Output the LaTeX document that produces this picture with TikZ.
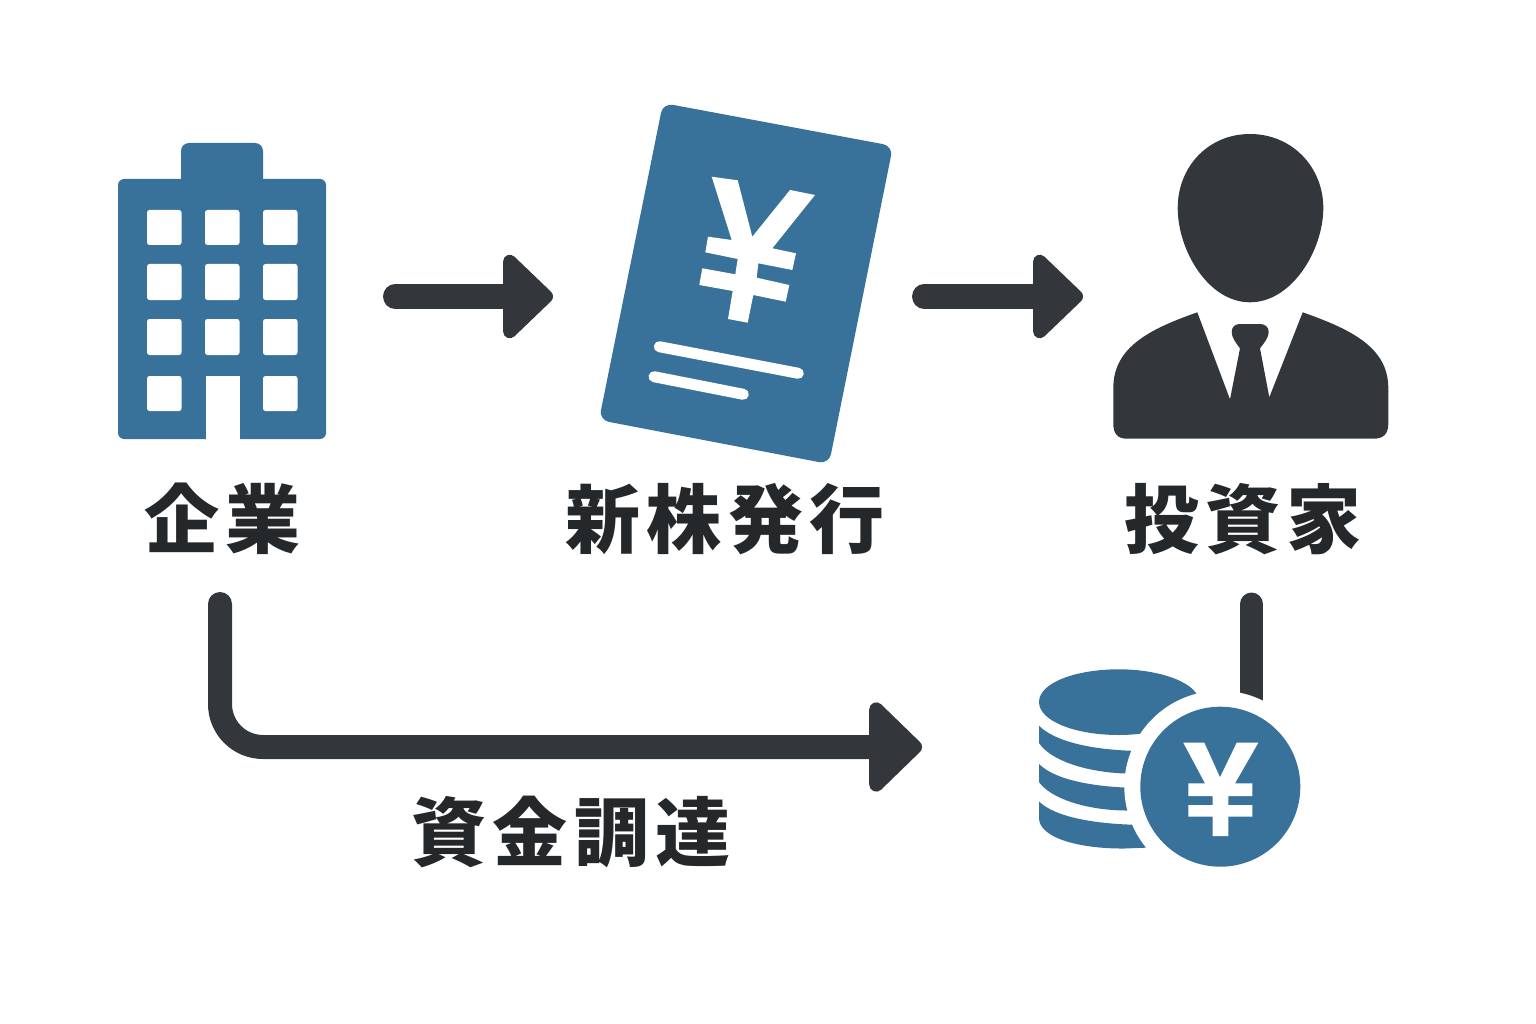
\documentclass[tikz,border=0pt]{standalone}
\usepackage{fontspec}
\usetikzlibrary{arrows.meta}
\newfontfamily\cjk[LetterSpace=8.5]{Noto Sans CJK JP}
\definecolor{iconblue}{HTML}{38729A}
\definecolor{inkdark}{HTML}{33373B}
\definecolor{labelink}{HTML}{25282B}
\tikzset{
  blue icon/.style={fill=iconblue,draw=none},
  cutout/.style={fill=white,draw=none},
  dark icon/.style={fill=inkdark,draw=none},
  label text/.style={font=\cjk\bfseries\fontsize{75}{75}\selectfont,text=labelink,inner sep=0pt,anchor=center},
  connector/.style={draw=inkdark,line width=24pt,line cap=round},
  headed/.style={connector,-{Triangle[length=53pt,width=98pt,round,line width=14pt]}},
}
\begin{document}
\begin{tikzpicture}[x=1pt,y=-1pt]
\useasboundingbox (0,0) rectangle (1536,1024);
% building
\fill[blue icon,rounded corners=6pt] (118,439) -- (118,179) -- (326,179) -- (326,439) -- cycle;
\fill[blue icon,rounded corners=8pt] (181,190) -- (181,143) -- (263,143) -- (263,190) -- cycle;
\foreach \cx in {147,205,263}{
  \foreach \cy/\ch in {210/35,264/36,319/36}{
    \fill[cutout,rounded corners=2.5pt] (\cx,\cy) rectangle ++(34.5,\ch);
  }
}
\fill[cutout,rounded corners=2.5pt] (147,376) rectangle ++(34.5,35);
\fill[cutout,rounded corners=2.5pt] (263,376) rectangle ++(34.5,35);
\fill[cutout] (206,439.5) -- (206,376) -- (239.5,376) -- (239.5,439.5) -- cycle;
% share certificate
\fill[blue icon,rounded corners=10pt] (663,103) -- (893,146) -- (829,464) -- (599,420) -- cycle;
\fill[cutout] (711.7,176.7) -- (737.7,180.3) -- (752.3,236.7) -- (790,190) -- (815,195) -- (772.3,248.3) -- (796,253.3) -- (792.3,270) -- (758.3,263.3) -- (756.7,277.7) -- (789.3,285) -- (785.7,301.7) -- (753.3,295) -- (747.7,322.7) -- (728,319) -- (732.7,291) -- (699.3,285) -- (702.3,268.3) -- (735.3,274.3) -- (737.7,259) -- (705.3,252.3) -- (708,236.7) -- (731.7,240) -- cycle;
\coordinate (l1a) at (659.3,346.7); \coordinate (l1b) at (798.3,373.3);
\coordinate (l2a) at (654,376.7); \coordinate (l2b) at (743.3,394.3);
\draw[white,line width=11pt,line cap=round] (l1a) -- (l1b);
\draw[white,line width=11pt,line cap=round] (l2a) -- (l2b);
% investor
\fill[dark icon] (1250,134) .. controls (1292,134) and (1323.3,167) .. (1323.3,208) .. controls (1323.3,250) and (1292,302.3) .. (1250,302.3) .. controls (1208,302.3) and (1177.7,250) .. (1177.7,208) .. controls (1177.7,167) and (1208,134) .. (1250,134) -- cycle;
\fill[dark icon] (1197.3,312.3) -- (1230,399.3) -- (1240,348.3) .. controls (1235,342) and (1231.7,337) .. (1231.7,332) .. controls (1231.7,327) and (1235,324) .. (1240,324) -- (1260,324) .. controls (1265,324) and (1268.7,327) .. (1268.7,332) .. controls (1268.7,337) and (1265,342) .. (1260,348.3) -- (1269.3,397.3) -- (1302.7,312.3) .. controls (1350,329) and (1388.3,347) .. (1388.3,388) -- (1388.3,424) .. controls (1388.3,434) and (1383,438.7) .. (1374,438.7) -- (1127,438.7) .. controls (1118,438.7) and (1113.3,434) .. (1113.3,424) -- (1113.3,388) .. controls (1113.3,347) and (1150,329) .. (1197.3,312.3) -- cycle;
% labels
\node[label text] (kigyo) at (222.5,519) {企業};
\node[label text] (shinkabu) at (725,519) {新株発行};
\node[label text] (toshika) at (1243,519) {投資家};
\node[label text] (shikin) at (571,832) {資金調達};
% connectors
\coordinate (a1s) at (395,296.5); \coordinate (a1e) at (553,296.5);
\coordinate (a2s) at (924,296.5); \coordinate (a2e) at (1083,296.5);
\draw[headed] (a1s) -- (a1e);
\draw[headed] (a2s) -- (a2e);
\coordinate (a3s) at (220,604); \coordinate (a3c) at (220,747); \coordinate (a3e) at (922,747);
\draw[connector,rounded corners=43pt,-{Triangle[length=56pt,width=105pt,round,line width=14pt]}] (a3s) -- (a3c) -- (a3e);
\coordinate (a4s) at (1251.5,604); \coordinate (a4e) at (1251.5,730);
\draw[connector,line width=23pt] (a4s) -- (a4e);
% coin stack
\fill[blue icon] (1119,669.3) .. controls (1075,669.3) and (1039,683) .. (1039,702) .. controls (1039,721) and (1075,735) .. (1119,735) .. controls (1160,735) and (1199,721) .. (1199,702) .. controls (1199,683) and (1160,669.3) .. (1119,669.3) -- cycle;
\fill[blue icon] (1039,725.7) .. controls (1055,742) and (1095,751) .. (1145,751) -- (1145,773.5) -- (1125,773.5) .. controls (1085,772) and (1050,760) .. (1039,743) -- cycle;
\fill[blue icon] (1039,764) .. controls (1055,780) and (1095,788) .. (1145,788) -- (1145,810.5) -- (1125,810.5) .. controls (1085,810) and (1050,798) .. (1039,782) -- cycle;
\fill[blue icon] (1039,801.5) .. controls (1055,817) and (1095,825) .. (1150,825) -- (1150,847.5) -- (1125,848.5) .. controls (1080,849) and (1039,838) .. (1039,818) -- cycle;
\fill[cutout] (1220.3,786.7) circle[radius=96pt];
\fill[blue icon] (1220.3,786.7) circle[radius=80pt];
\fill[cutout] (1183.3,742.7) -- (1204.3,742.7) -- (1220,777.3) -- (1236.7,742.7) -- (1258.3,742.7) -- (1235,783.3) -- (1252.3,783.3) -- (1252.3,796) -- (1228.3,796) -- (1228.3,805) -- (1252.3,805) -- (1252.3,816.7) -- (1228.3,816.7) -- (1228.3,836) -- (1212.7,836) -- (1212.7,816.7) -- (1188.3,816.7) -- (1188.3,805) -- (1212.7,805) -- (1212.7,796) -- (1188.3,796) -- (1188.3,783.3) -- (1205,783.3) -- cycle;
\end{tikzpicture}
\end{document}
